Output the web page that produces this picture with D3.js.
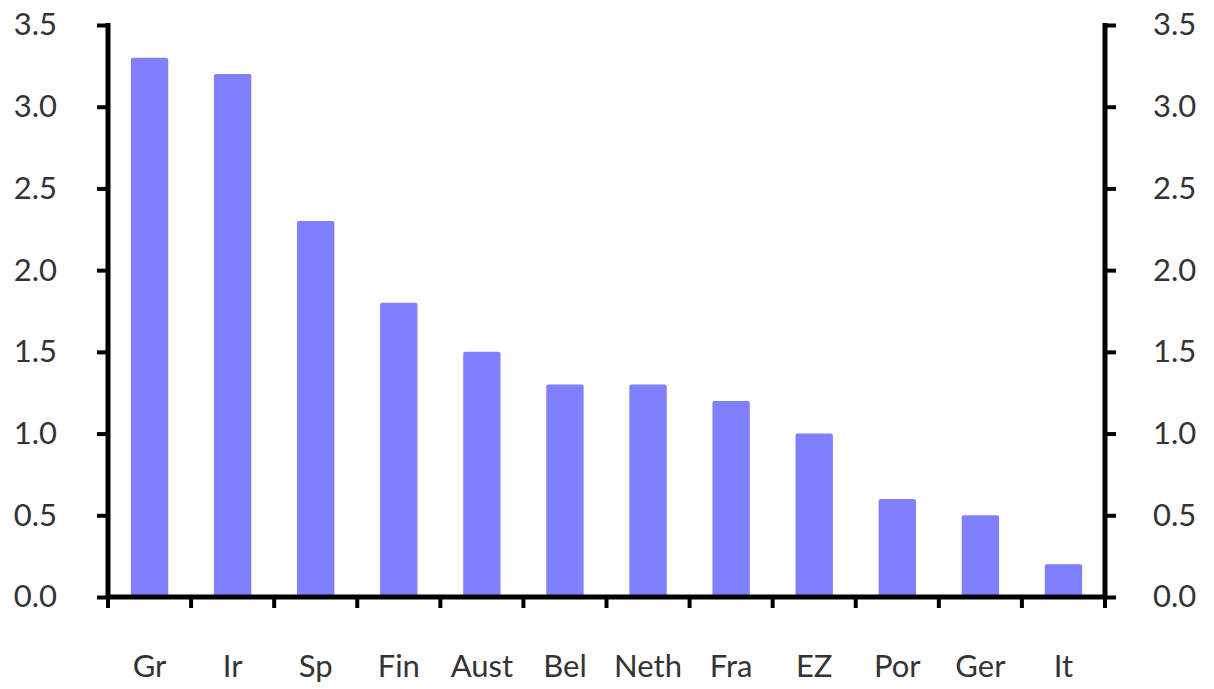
<!DOCTYPE html>
<html>
<head>
<meta charset="utf-8">
<script src="https://cdn.jsdelivr.net/npm/d3@7"></script>
<style>
  body { margin: 0; background: #fff; }
  text { font-family: "Lato", "Open Sans", sans-serif; fill: #333; }
</style>
</head>
<body>
<div id="chart"></div>
<script>
// chart data
var countries = ["Gr", "Ir", "Sp", "Fin", "Aust", "Bel", "Neth", "Fra", "EZ", "Por", "Ger", "It"];
var values = [3.3, 3.2, 2.3, 1.8, 1.5, 1.3, 1.3, 1.2, 1.0, 0.6, 0.5, 0.2];
var yTicks = [0, 0.5, 1.0, 1.5, 2.0, 2.5, 3.0, 3.5];

var svgWidth = 1214;
var svgHeight = 689;

var margin = { top: 25, right: 109, bottom: 92, left: 108 };
var width = svgWidth - margin.left - margin.right;
var height = svgHeight - margin.top - margin.bottom;

var svg = d3.select("#chart")
   .append("svg")
   .attr("width", svgWidth)
   .attr("height", svgHeight);

var chartGroup = svg.append("g")
   .attr("transform", `translate(${margin.left}, ${margin.top})`);

// scales
var xScale = d3.scaleBand()
   .domain(countries)
   .range([0, width])
   .paddingInner(0.55)
   .paddingOuter(0.275);

var yScale = d3.scaleLinear()
   .domain([0, 3.5])
   .range([height, 0]);

// bars
chartGroup.selectAll("rect.bar")
   .data(values)
   .enter()
   .append("rect")
   .attr("class", "bar")
   .attr("x", (d, i) => xScale(countries[i]))
   .attr("y", d => yScale(d))
   .attr("width", xScale.bandwidth())
   .attr("height", d => height - yScale(d))
   .attr("rx", 2)
   .attr("fill", "#8080ff");

// left axis
var leftAxis = d3.axisLeft(yScale)
   .tickValues(yTicks)
   .tickFormat(d3.format(".1f"))
   .tickSize(11)
   .tickPadding(40);

var yAxisL = chartGroup.append("g").call(leftAxis);

// right axis
var rightAxis = d3.axisRight(yScale)
   .tickValues(yTicks)
   .tickFormat(d3.format(".1f"))
   .tickSize(11)
   .tickPadding(37);

var yAxisR = chartGroup.append("g")
   .attr("transform", `translate(${width}, 0)`)
   .call(rightAxis);

[yAxisL, yAxisR].forEach(function (ax) {
   ax.select(".domain").remove();
   ax.selectAll(".tick line").attr("stroke", "#000").attr("stroke-width", 4);
   ax.selectAll(".tick text").style("font-size", "31px").attr("fill", "#333");
   ax.append("line")
      .attr("x1", 0).attr("x2", 0)
      .attr("y1", -2).attr("y2", height + 2)
      .attr("stroke", "#000")
      .attr("stroke-width", 5);
});

// bottom axis: ticks at category boundaries
var boundaries = countries.map(c => xScale(c) - xScale.step() * xScale.paddingInner() / 2);
boundaries.push(width);

var xAxisG = chartGroup.append("g")
   .attr("transform", `translate(0, ${height})`);

xAxisG.selectAll("line.tick")
   .data(boundaries)
   .enter()
   .append("line")
   .attr("x1", d => d).attr("x2", d => d)
   .attr("y1", 0).attr("y2", 11)
   .attr("stroke", "#000")
   .attr("stroke-width", 4);

xAxisG.append("line")
   .attr("x1", -2).attr("x2", width + 2)
   .attr("y1", 0).attr("y2", 0)
   .attr("stroke", "#000")
   .attr("stroke-width", 5);

// category labels
xAxisG.selectAll("text.cat")
   .data(countries)
   .enter()
   .append("text")
   .attr("class", "cat")
   .attr("x", d => xScale(d) + xScale.bandwidth() / 2)
   .attr("y", 80)
   .attr("text-anchor", "middle")
   .style("font-size", "31px")
   .text(d => d);
</script>
</body>
</html>
